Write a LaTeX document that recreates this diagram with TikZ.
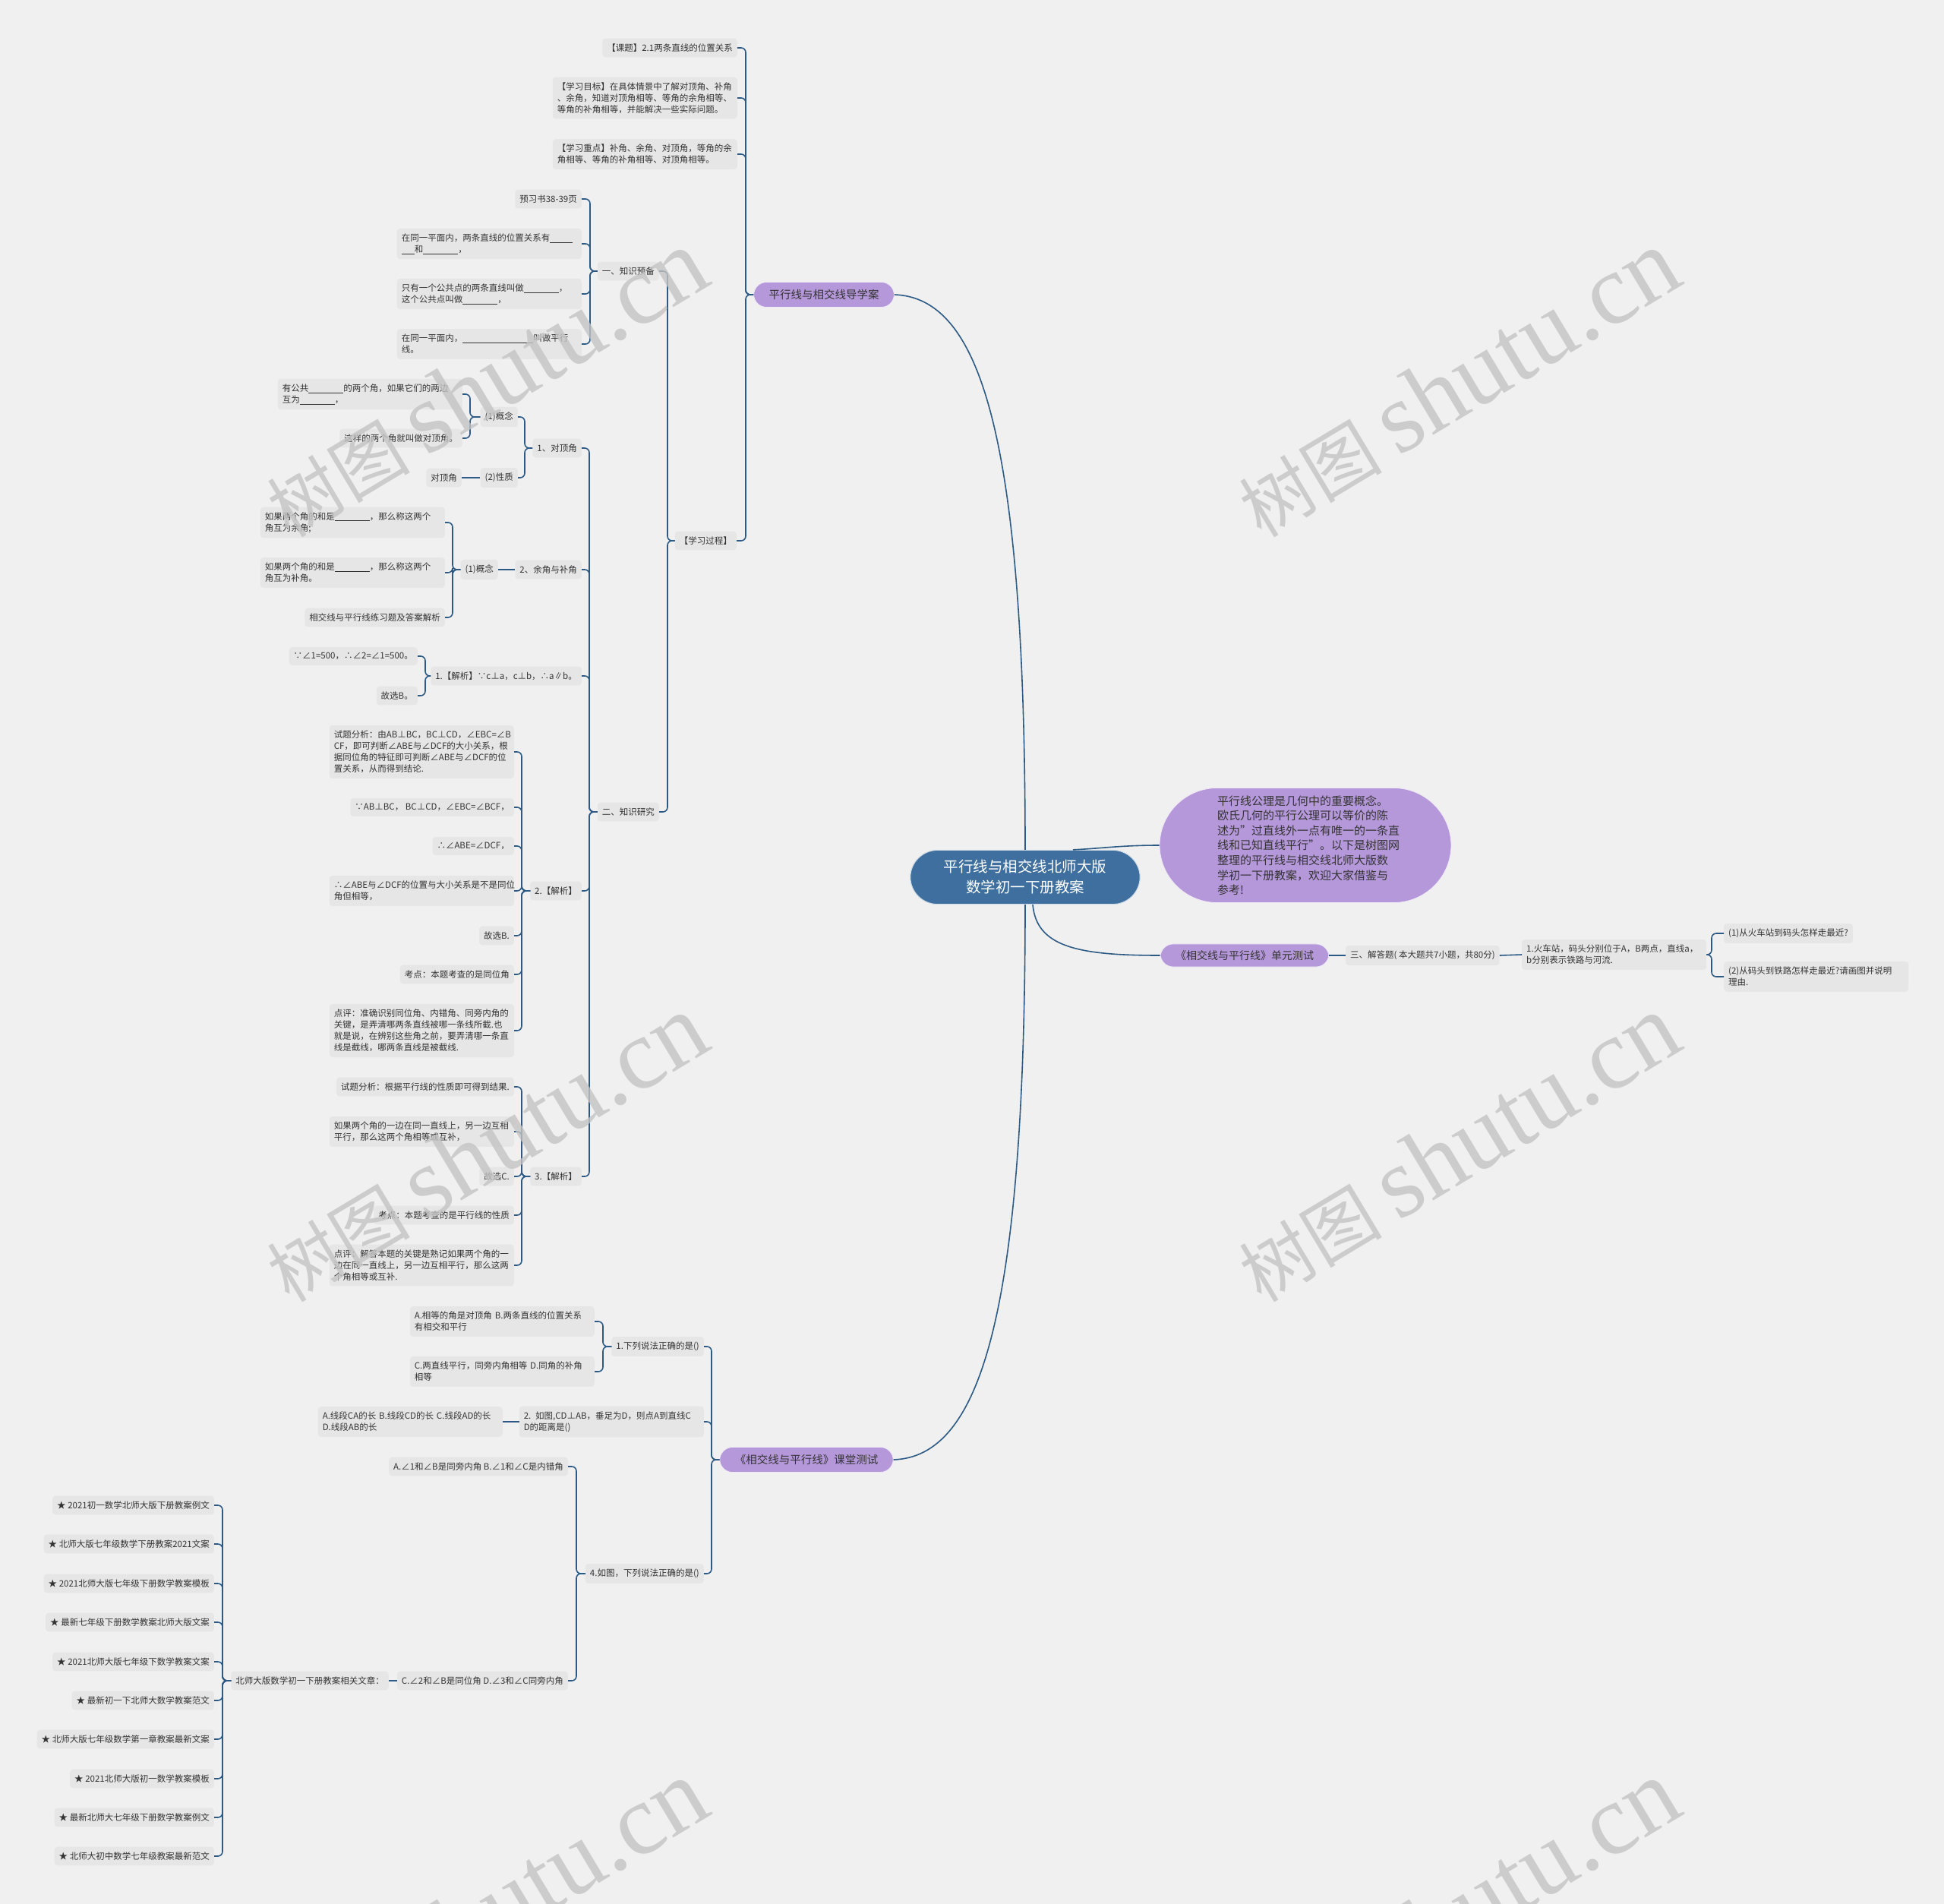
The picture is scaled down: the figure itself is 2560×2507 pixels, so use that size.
\documentclass[tikz,border=0pt]{standalone}
\usepackage{fontspec}
\setmainfont{Noto Sans CJK SC}
\newfontfamily\wmlatin{Liberation Serif}
\definecolor{bg}{HTML}{F0F0F0}
\definecolor{leaf}{HTML}{E6E6E6}
\definecolor{txt}{HTML}{333333}
\definecolor{lc}{HTML}{2C5A85}
\definecolor{rootc}{HTML}{3E6F9F}
\definecolor{purp}{HTML}{B598DA}
\definecolor{wmc}{HTML}{C4C4C4}
\newcommand{\xblank}[1]{\rule[-1.5pt]{#1pt}{0.6pt}}
\begin{document}
\begin{tikzpicture}[x=1pt, y=1pt,
    n/.style={fill=leaf, rounded corners=4pt, inner xsep=6pt, inner ysep=7pt, text=txt, font=\fontsize{11.5}{15}\selectfont, align=left, anchor=east},
    nw/.style={n, text width=231pt},
    nr/.style={n, anchor=west},
    nrw/.style={nw, anchor=west},
    pn/.style={fill=purp, draw=white!80!purp, line width=0.8pt, rounded corners=17pt, inner xsep=20pt, inner ysep=9.75pt, text=txt, font=\fontsize{14.5}{18}\selectfont},
    link/.style={draw=lc, line width=1.6pt, rounded corners=6pt},
    wm/.style={text=wmc, opacity=0.8, rotate=31, font=\fontsize{94}{94}\selectfont}]
    \useasboundingbox (0,0) rectangle (2560,-2507);
    \fill[bg] (0,0) rectangle (2560,-2507);

    \node[fill=rootc, draw=white!75!rootc, line width=1pt, rounded corners=36pt, inner xsep=44pt, inner ysep=13pt, text=white, align=center, font=\fontsize{19.5}{27}\selectfont] (root) at (1350,-1155) {平行线与相交线北师大版\\数学初一下册教案};
    \node[pn] (dxa) at (1085,-388) {平行线与相交线导学案};
    \node[pn, rounded corners=76pt, text width=232pt, align=left, inner xsep=76pt, inner ysep=9.7pt, font=\fontsize{15}{19.6}\selectfont] (ell) at (1719,-1113) {平行线公理是几何中的重要概念。\\欧氏几何的平行公理可以等价的陈\\述为"过直线外一点有唯一的一条直\\线和已知直线平行"。以下是树图网\\整理的平行线与相交线北师大版数\\学初一下册教案，欢迎大家借鉴与\\参考!};
    \node[pn, font=\fontsize{14}{17}\selectfont, inner ysep=8.5pt] (dycs) at (1639,-1258) {《相交线与平行线》单元测试};
    \node[pn] (ktcs) at (1062,-1922) {《相交线与平行线》课堂测试};

    \node[n] (kt) at (971,-63) {【课题】2.1两条直线的位置关系};
    \node[nw] (mb) at (971,-129) {【学习目标】在具体情景中了解对顶角、补角\\、余角，知道对顶角相等、等角的余角相等、\\等角的补角相等，并能解决一些实际问题。};
    \node[nw] (zd) at (971,-203) {【学习重点】补角、余角、对顶角，等角的余\\角相等、等角的补角相等、对顶角相等。};
    \node[n] (gc) at (970,-712) {【学习过程】};
    \node[n] (yb) at (868,-357) {一、知识预备};
    \node[n] (yj) at (868,-1069) {二、知识研究};

    \node[n] (y1) at (766,-262) {预习书38-39页};
    \node[nw] (y2) at (766,-321) {在同一平面内，两条直线的位置关系有\xblank{30}\\\xblank{17}和\xblank{46}，};
    \node[nw] (y3) at (766,-387) {只有一个公共点的两条直线叫做\xblank{46}，\\这个公共点叫做\xblank{46}，};
    \node[nw] (y4) at (766,-453) {在同一平面内，\xblank{93}叫做平行\\线。};

    \node[n] (d1) at (766,-590) {1、对顶角};
    \node[n] (d2) at (766,-750) {2、余角与补角};
    \node[n] (d3) at (766,-890) {1.【解析】∵c⊥a，c⊥b，∴a∥b。};
    \node[n] (d4) at (766,-1173) {2.【解析】};
    \node[n] (d5) at (766,-1549) {3.【解析】};

    \node[n] (gn1) at (682,-549) {(1)概念};
    \node[n] (xz) at (682,-629) {(2)性质};
    \node[nw] (g11) at (609,-519) {有公共\xblank{46}的两个角，如果它们的两边\\互为\xblank{46}，};
    \node[n] (g12) at (609,-577) {这样的两个角就叫做对顶角。};
    \node[n] (dd) at (608,-629) {对顶角};

    \node[n] (gn2) at (656,-750) {(1)概念};
    \node[nw] (g21) at (586,-688) {如果两个角的和是\xblank{46}，那么称这两个\\角互为余角;};
    \node[nw] (g22) at (586,-754) {如果两个角的和是\xblank{46}，那么称这两个\\角互为补角。};
    \node[n] (g23) at (586,-813) {相交线与平行线练习题及答案解析};

    \node[n] (j11) at (550,-864) {∵∠1=500，∴∠2=∠1=500。};
    \node[n] (j12) at (550,-916) {故选B。};

    \node[nw] (j21) at (677,-990) {试题分析：由AB⊥BC，BC⊥CD，∠EBC=∠B\\CF，即可判断∠ABE与∠DCF的大小关系，根\\据同位角的特征即可判断∠ABE与∠DCF的位\\置关系，从而得到结论.};
    \node[n] (j22) at (677,-1063) {∵AB⊥BC， BC⊥CD，∠EBC=∠BCF，};
    \node[n] (j23) at (677,-1114) {∴∠ABE=∠DCF，};
    \node[nw] (j24) at (677,-1173) {∴∠ABE与∠DCF的位置与大小关系是不是同位\\角但相等，};
    \node[n] (j25) at (677,-1232) {故选B.};
    \node[n] (j26) at (677,-1283) {考点：本题考查的是同位角};
    \node[nw] (j27) at (677,-1357) {点评：准确识别同位角、内错角、同旁内角的\\关键，是弄清哪两条直线被哪一条线所截.也\\就是说，在辨别这些角之前，要弄清哪一条直\\线是截线，哪两条直线是被截线.};

    \node[n] (j31) at (677,-1431) {试题分析：根据平行线的性质即可得到结果.};
    \node[nw] (j32) at (677,-1490) {如果两个角的一边在同一直线上，另一边互相\\平行，那么这两个角相等或互补，};
    \node[n] (j33) at (677,-1549) {故选C.};
    \node[n] (j34) at (677,-1600) {考点：本题考查的是平行线的性质};
    \node[nw] (j35) at (677,-1666) {点评：解答本题的关键是熟记如果两个角的一\\边在同一直线上，另一边互相平行，那么这两\\个角相等或互补.};

    \node[n] (t1) at (927,-1773) {1.下列说法正确的是()};
    \node[nw] (t2) at (927,-1872) {2. 如图,CD⊥AB，垂足为D，则点A到直线C\\D的距离是()};
    \node[n] (t4) at (927,-2072) {4.如图，下列说法正确的是()};
    \node[nw] (t11) at (783,-1740) {A.相等的角是对顶角 B.两条直线的位置关系\\有相交和平行};
    \node[nw] (t12) at (783,-1806) {C.两直线平行，同旁内角相等 D.同角的补角\\相等};
    \node[nw] (t21) at (662,-1872) {A.线段CA的长 B.线段CD的长 C.线段AD的长\\D.线段AB的长};
    \node[n] (t41) at (748,-1931) {A.∠1和∠B是同旁内角 B.∠1和∠C是内错角};
    \node[n] (t42) at (748,-2213) {C.∠2和∠B是同位角 D.∠3和∠C同旁内角};
    \node[n] (xg) at (512,-2213) {北师大版数学初一下册教案相关文章：};

    \node[n] (s1) at (282,-1982) {★ 2021初一数学北师大版下册教案例文};
    \node[n] (s2) at (282,-2033) {★ 北师大版七年级数学下册教案2021文案};
    \node[n] (s3) at (282,-2085) {★ 2021北师大版七年级下册数学教案模板};
    \node[n] (s4) at (282,-2136) {★ 最新七年级下册数学教案北师大版文案};
    \node[n] (s5) at (282,-2188) {★ 2021北师大版七年级下数学教案文案};
    \node[n] (s6) at (282,-2239) {★ 最新初一下北师大数学教案范文};
    \node[n] (s7) at (282,-2290) {★ 北师大版七年级数学第一章教案最新文案};
    \node[n] (s8) at (282,-2342) {★ 2021北师大版初一数学教案模板};
    \node[n] (s9) at (282,-2393) {★ 最新北师大七年级下册数学教案例文};
    \node[n] (s10) at (282,-2444) {★ 北师大初中数学七年级教案最新范文};

    \node[nr] (sj) at (1772,-1258) {三、解答题( 本大题共7小题，共80分)};
    \node[nrw] (hc) at (2004,-1257) {1.火车站，码头分别位于A，B两点，直线a，\\b分别表示铁路与河流.};
    \node[nr] (q1) at (2270,-1229) {(1)从火车站到码头怎样走最近?};
    \node[nrw] (q2) at (2270,-1286) {(2)从码头到铁路怎样走最近?请画图并说明\\理由.};

    \draw[link] (dxa.east) .. controls +(113,-4) and +(0,546) .. (root.north);
    \draw[link] (ktcs.east) .. controls +(113,4) and +(0,-546) .. (root.south);
    \draw[link] ([xshift=63]root.north) .. controls +(40,2) and +(-50,0) .. (ell.west);
    \draw[link] ([xshift=10]root.south) .. controls +(5,-55) and +(-110,0) .. (dycs.west);

    \draw[link] (kt.east) -- ++(11,0) |- (dxa.west);
    \draw[link] (mb.east) -- ++(11,0) |- (dxa.west);
    \draw[link] (zd.east) -- ++(11,0) |- (dxa.west);
    \draw[link] (gc.east) -- ++(12,0) |- (dxa.west);
    \draw[link] (yb.east) -- ++(11,0) |- (gc.west);
    \draw[link] (yj.east) -- ++(11,0) |- (gc.west);
    \draw[link] (y1.east) -- ++(11,0) |- (yb.west);
    \draw[link] (y2.east) -- ++(11,0) |- (yb.west);
    \draw[link] (y3.east) -- ++(11,0) |- (yb.west);
    \draw[link] (y4.east) -- ++(11,0) |- (yb.west);
    \draw[link] (d1.east) -- ++(10,0) |- (yj.west);
    \draw[link] (d2.east) -- ++(10,0) |- (yj.west);
    \draw[link] (d3.east) -- ++(10,0) |- (yj.west);
    \draw[link] (d4.east) -- ++(10,0) |- (yj.west);
    \draw[link] (d5.east) -- ++(10,0) |- (yj.west);
    \draw[link] (gn1.east) -- ++(9,0) |- (d1.west);
    \draw[link] (xz.east) -- ++(9,0) |- (d1.west);
    \draw[link] (g11.east) -- ++(10,0) |- (gn1.west);
    \draw[link] (g12.east) -- ++(10,0) |- (gn1.west);
    \draw[link] (xz.west) -- (dd.east);
    \draw[link] (d2.west) -- (gn2.east);
    \draw[link] (g21.east) -- ++(10,0) |- (gn2.west);
    \draw[link] (g22.east) -- ++(10,0) |- (gn2.west);
    \draw[link] (g23.east) -- ++(10,0) |- (gn2.west);
    \draw[link] (j11.east) -- ++(10,0) |- (d3.west);
    \draw[link] (j12.east) -- ++(10,0) |- (d3.west);
    \draw[link] (j21.east) -- ++(10,0) |- (d4.west);
    \draw[link] (j22.east) -- ++(10,0) |- (d4.west);
    \draw[link] (j23.east) -- ++(10,0) |- (d4.west);
    \draw[link] (j24.east) -- ++(10,0) |- (d4.west);
    \draw[link] (j25.east) -- ++(10,0) |- (d4.west);
    \draw[link] (j26.east) -- ++(10,0) |- (d4.west);
    \draw[link] (j27.east) -- ++(10,0) |- (d4.west);
    \draw[link] (j31.east) -- ++(10,0) |- (d5.west);
    \draw[link] (j32.east) -- ++(10,0) |- (d5.west);
    \draw[link] (j33.east) -- ++(10,0) |- (d5.west);
    \draw[link] (j34.east) -- ++(10,0) |- (d5.west);
    \draw[link] (j35.east) -- ++(10,0) |- (d5.west);

    \draw[link] (t1.east) -- ++(10,0) |- (ktcs.west);
    \draw[link] (t2.east) -- ++(10,0) |- (ktcs.west);
    \draw[link] (t4.east) -- ++(10,0) |- (ktcs.west);
    \draw[link] (t11.east) -- ++(11,0) |- (t1.west);
    \draw[link] (t12.east) -- ++(11,0) |- (t1.west);
    \draw[link] (t2.west) -- (t21.east);
    \draw[link] (t41.east) -- ++(11,0) |- (t4.west);
    \draw[link] (t42.east) -- ++(11,0) |- (t4.west);
    \draw[link] (t42.west) -- (xg.east);
    \draw[link] (s1.east) -- ++(11,0) |- (xg.west);
    \draw[link] (s2.east) -- ++(11,0) |- (xg.west);
    \draw[link] (s3.east) -- ++(11,0) |- (xg.west);
    \draw[link] (s4.east) -- ++(11,0) |- (xg.west);
    \draw[link] (s5.east) -- ++(11,0) |- (xg.west);
    \draw[link] (s6.east) -- ++(11,0) |- (xg.west);
    \draw[link] (s7.east) -- ++(11,0) |- (xg.west);
    \draw[link] (s8.east) -- ++(11,0) |- (xg.west);
    \draw[link] (s9.east) -- ++(11,0) |- (xg.west);
    \draw[link] (s10.east) -- ++(11,0) |- (xg.west);

    \draw[link] (dycs.east) -- (sj.west);
    \draw[link] (sj.east) -- (hc.west);
    \draw[link] (q1.west) -- ++(-16,0) |- (hc.east);
    \draw[link] (q2.west) -- ++(-16,0) |- (hc.east);

    \node[wm] (w1) at (640,-505) {树图 {\wmlatin\fontsize{132}{132}\selectfont shutu.cn}};
    \node[wm] (w2) at (1920,-505) {树图 {\wmlatin\fontsize{132}{132}\selectfont shutu.cn}};
    \node[wm] (w3) at (640,-1512) {树图 {\wmlatin\fontsize{132}{132}\selectfont shutu.cn}};
    \node[wm] (w4) at (1920,-1512) {树图 {\wmlatin\fontsize{132}{132}\selectfont shutu.cn}};
    \node[wm] (w5) at (640,-2520) {树图 {\wmlatin\fontsize{132}{132}\selectfont shutu.cn}};
    \node[wm] (w6) at (1920,-2520) {树图 {\wmlatin\fontsize{132}{132}\selectfont shutu.cn}};
\end{tikzpicture}
\end{document}
